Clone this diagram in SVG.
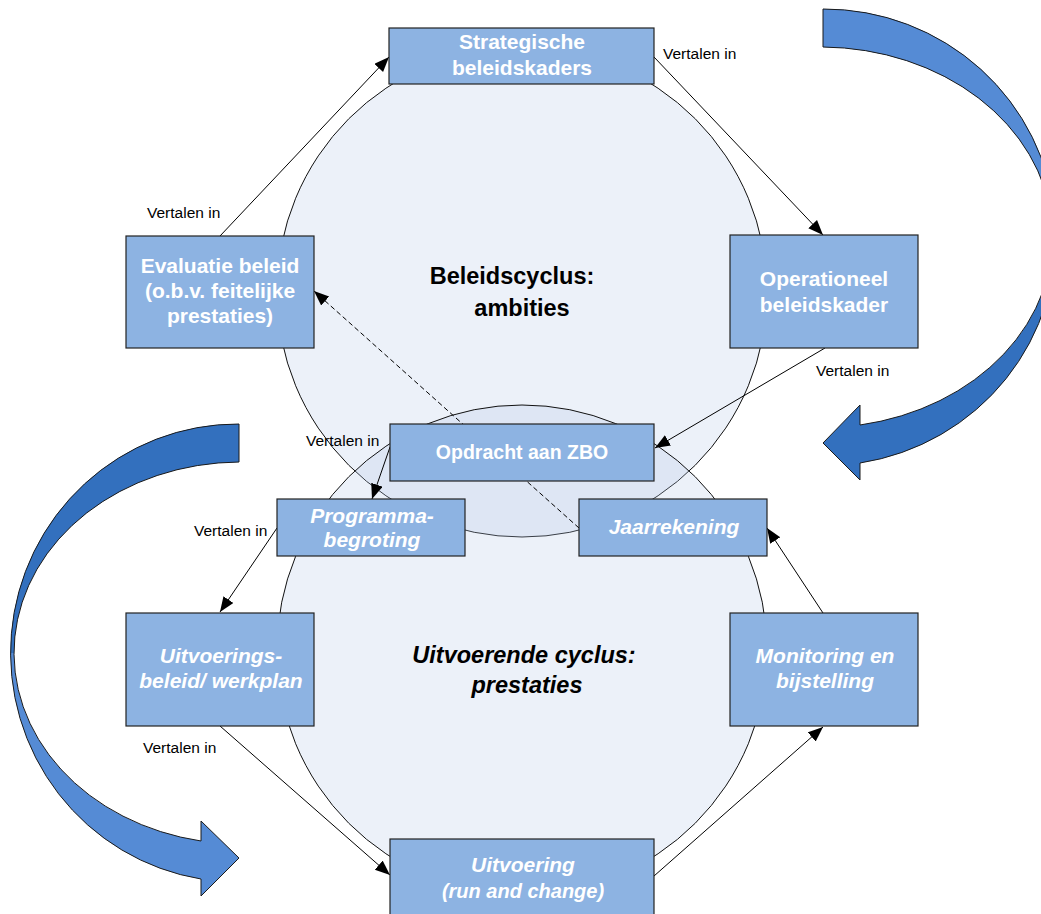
<svg xmlns="http://www.w3.org/2000/svg" width="1041" height="914" viewBox="0 0 1041 914">
<style>
.cyc{fill:#B4C8E8;fill-opacity:0.25;stroke:#111;stroke-width:1}
.box{fill:#8DB3E2;stroke:#222;stroke-width:1.2}
.bt{font-family:"Liberation Sans",Arial,sans-serif;font-weight:bold;font-size:21px;fill:#fff;text-anchor:middle}
.it{font-style:italic}
.ct{font-family:"Liberation Sans",Arial,sans-serif;font-weight:bold;font-size:23.5px;fill:#000;text-anchor:middle}
.lab{font-family:"Liberation Sans",Arial,sans-serif;font-size:15.5px;fill:#000}
.con{fill:none;stroke:#000;stroke-width:1}
.dash{stroke-dasharray:5,3}
.edge{fill:none;stroke:#1a1a1a;stroke-width:1}
</style>
<defs>
<marker id="ah" markerUnits="userSpaceOnUse" markerWidth="17" markerHeight="14" refX="15" refY="6" orient="auto">
<path d="M0,0 L15,6 L0,12 Z" fill="#000"/>
</marker>
<clipPath id="rTop"><rect x="780" y="0" width="300" height="250"/></clipPath>
<clipPath id="lTop"><rect x="0" y="400" width="260" height="253"/></clipPath>
</defs>
<rect width="1041" height="914" fill="#fff"/>

<g id="cycles">
<circle cx="522" cy="292" r="245" class="cyc"/>
<circle cx="522" cy="650" r="245" class="cyc"/>
</g>

<g id="curved-arrow-right">
<path d="M 823 9 A 232 228.4 0 0 1 860 463 L 860 480 L 823 443 L 860 405 L 860 425 A 232 190.4 0 0 0 823 47 Z" fill="#3370BE"/>
<path d="M 823 9 A 232 228.4 0 0 1 860 463 L 860 480 L 823 443 L 860 405 L 860 425 A 232 190.4 0 0 0 823 47 Z" fill="#558BD5" clip-path="url(#rTop)"/>
<path d="M 823 9 A 232 228.4 0 0 1 860 463 L 860 480 L 823 443 L 860 405 L 860 425 A 232 190.4 0 0 0 823 47 Z" class="edge"/>
</g>
<g id="curved-arrow-left">
<path d="M 239 424 A 227 229 0 0 0 201 879 L 201 896 L 239 858 L 201 821 L 201 841 A 227 191 0 0 1 239 462 Z" fill="#558BD5"/>
<path d="M 239 424 A 227 229 0 0 0 201 879 L 201 896 L 239 858 L 201 821 L 201 841 A 227 191 0 0 1 239 462 Z" fill="#3370BE" clip-path="url(#lTop)"/>
<path d="M 239 424 A 227 229 0 0 0 201 879 L 201 896 L 239 858 L 201 821 L 201 841 A 227 191 0 0 1 239 462 Z" class="edge"/>
</g>

<g id="cycle-titles">
<text class="ct" x="512" y="284">Beleidscyclus:</text>
<text class="ct" x="522" y="316">ambities</text>
<text class="ct it" x="524" y="663">Uitvoerende cyclus:</text>
<text class="ct it" x="527" y="693">prestaties</text>
</g>

<g id="connectors">
<line class="con" x1="220" y1="236" x2="389" y2="57" marker-end="url(#ah)"/>
<line class="con" x1="654" y1="57" x2="823" y2="235" marker-end="url(#ah)"/>
<line class="con" x1="825" y1="348" x2="655" y2="448" marker-end="url(#ah)"/>
<line class="con" x1="390" y1="447" x2="372" y2="499" marker-end="url(#ah)"/>
<line class="con" x1="277" y1="528" x2="220" y2="612" marker-end="url(#ah)"/>
<line class="con" x1="220" y1="726" x2="390" y2="875" marker-end="url(#ah)"/>
<line class="con" x1="654" y1="876" x2="823" y2="727" marker-end="url(#ah)"/>
<line class="con" x1="823" y1="613" x2="767" y2="528" marker-end="url(#ah)"/>
<line class="con dash" x1="579" y1="528" x2="314" y2="291" marker-end="url(#ah)"/>
<text class="lab" x="663" y="59">Vertalen in</text>
<text class="lab" x="147" y="218">Vertalen in</text>
<text class="lab" x="816" y="376">Vertalen in</text>
<text class="lab" x="306" y="446">Vertalen in</text>
<text class="lab" x="194" y="536">Vertalen in</text>
<text class="lab" x="143" y="753">Vertalen in</text>
</g>

<g id="strategische">
<rect class="box" x="389" y="28" width="265" height="56"/>
<text class="bt" x="522" y="49">Strategische</text>
<text class="bt" x="522" y="75">beleidskaders</text>
</g>
<g id="evaluatie">
<rect class="box" x="126" y="236" width="188" height="112"/>
<text class="bt" x="220" y="273">Evaluatie beleid</text>
<text class="bt" x="220" y="298">(o.b.v. feitelijke</text>
<text class="bt" x="220" y="323">prestaties)</text>
</g>
<g id="operationeel">
<rect class="box" x="730" y="235" width="188" height="113"/>
<text class="bt" x="824" y="286">Operationeel</text>
<text class="bt" x="824" y="312">beleidskader</text>
</g>
<g id="opdracht">
<rect class="box" x="390" y="424" width="264" height="57"/>
<text class="bt" x="522" y="459" style="font-size:19.5px">Opdracht aan ZBO</text>
</g>
<g id="programma">
<rect class="box" x="277" y="499" width="188" height="57"/>
<text class="bt it" x="372" y="523">Programma-</text>
<text class="bt it" x="372" y="547">begroting</text>
</g>
<g id="jaarrekening">
<rect class="box" x="579" y="499" width="188" height="57"/>
<text class="bt it" x="674" y="534">Jaarrekening</text>
</g>
<g id="uitvoeringsbeleid">
<rect class="box" x="126" y="613" width="188" height="113"/>
<text class="bt it" x="221" y="663">Uitvoerings-</text>
<text class="bt it" x="221" y="688">beleid/ werkplan</text>
</g>
<g id="monitoring">
<rect class="box" x="730" y="613" width="188" height="113"/>
<text class="bt it" x="825" y="663">Monitoring en</text>
<text class="bt it" x="825" y="688">bijstelling</text>
</g>
<g id="uitvoering">
<rect class="box" x="390" y="839" width="264" height="85"/>
<text class="bt it" x="523" y="872">Uitvoering</text>
<text class="bt it" x="523" y="898" style="font-size:20px">(run and change)</text>
</g>
</svg>
